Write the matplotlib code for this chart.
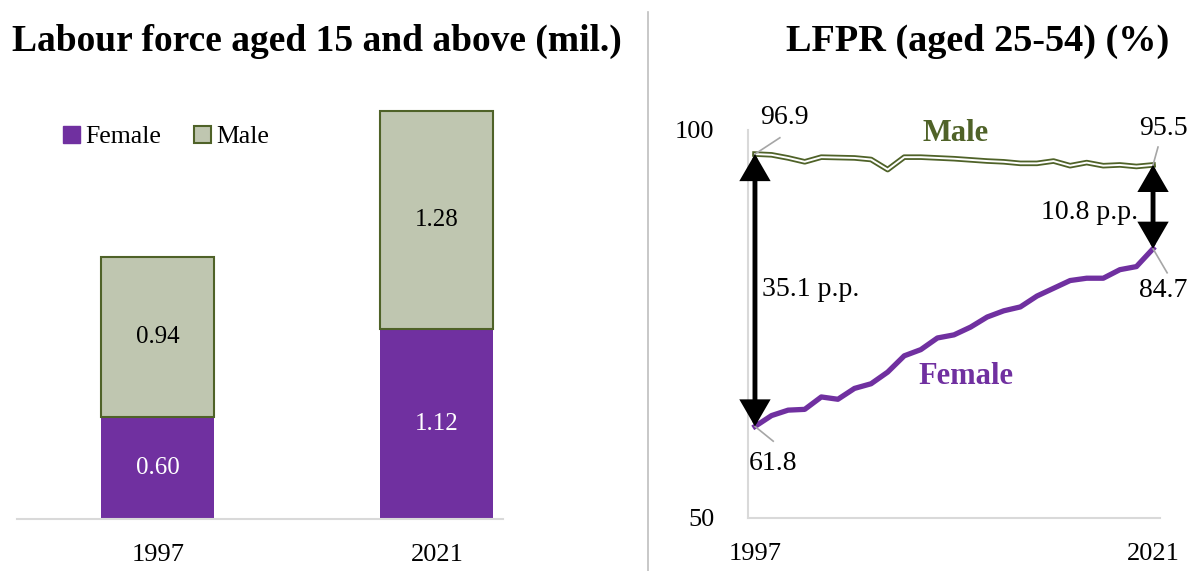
import numpy as np
import matplotlib.pyplot as plt
from matplotlib.lines import Line2D
from matplotlib.patches import Patch, ArrowStyle

plt.rcParams['font.family'] = ['Liberation Serif', 'DejaVu Serif']

# labour force (mil.)
bar_years = ['1997', '2021']
lf_female = [0.60, 1.12]
lf_male = [0.94, 1.28]

# LFPR aged 25-54 (%)
years = list(range(1997, 2022))
lfpr_female = [61.8, 63.2, 63.9, 64.0, 65.6, 65.3, 66.7, 67.3, 68.8, 70.9,
               71.7, 73.2, 73.6, 74.6, 75.9, 76.7, 77.2, 78.6, 79.6, 80.6,
               80.9, 80.9, 82.0, 82.4, 84.7]
lfpr_male = [96.9, 96.8, 96.4, 95.9, 96.5, 96.45, 96.4, 96.2, 94.9, 96.5,
             96.5, 96.4, 96.3, 96.15, 96.0, 95.9, 95.7, 95.7, 96.0, 95.4,
             95.8, 95.4, 95.5, 95.3, 95.5]

PURPLE = '#7030A0'
OLIVE = '#4F6228'
SAGE = '#BFC6B0'
GRID = '#D9D9D9'

W, H = 1195, 571
fig = plt.figure(figsize=(W / 100, H / 100), dpi=100)


def px_axes(x0, y0, x1, y1):
    return fig.add_axes([x0 / W, 1 - y1 / H, (x1 - x0) / W, (y1 - y0) / H])


# ---- left: stacked bars
ax1 = px_axes(17, 100, 503, 519)
x = np.arange(len(bar_years))
ax1.bar(x, lf_female, width=0.405, color=PURPLE, label='Female')
ax1.bar(x, lf_male, width=0.405, bottom=lf_female, color=SAGE,
        edgecolor=OLIVE, linewidth=1.5, label='Male')
for i in range(len(x)):
    ax1.text(x[i], lf_female[i] / 2, f'{lf_female[i]:.2f}', ha='center',
             va='center', color='white', fontsize=18)
    ax1.text(x[i], lf_female[i] + lf_male[i] / 2, f'{lf_male[i]:.2f}',
             ha='center', va='center', color='black', fontsize=18)
ax1.set_xlim(-0.505, 1.237)
ax1.set_ylim(0, 2.465)
ax1.set_xticks(x, bar_years, fontsize=19)
ax1.set_yticks([])
for s in ['top', 'right', 'left']:
    ax1.spines[s].set_visible(False)
ax1.spines['bottom'].set_color(GRID)
ax1.spines['bottom'].set_linewidth(1.5)
ax1.tick_params(axis='x', length=0, pad=18)
handles = [Patch(facecolor=PURPLE, edgecolor=PURPLE),
           Patch(facecolor=SAGE, edgecolor=OLIVE, linewidth=1.5)]
ax1.legend(handles, ['Female', 'Male'], ncol=2, frameon=False, fontsize=18.5,
           handlelength=0.65, handleheight=0.65, handletextpad=0.2,
           columnspacing=1.3, loc='center left',
           bbox_to_anchor=(40 / W, 1 - 137 / H), bbox_transform=fig.transFigure)

fig.text(317 / W, 1 - 41 / H, 'Labour force aged 15 and above (mil.)',
         ha='center', va='center', fontsize=27, fontweight='bold')

# ---- right: LFPR lines
ax2 = px_axes(748, 130, 1160, 518)
ax2.plot(years, lfpr_female, color=PURPLE, lw=3.8, solid_joinstyle='round')
ax2.plot(years, lfpr_male, color=OLIVE, lw=4.0)
ax2.plot(years, lfpr_male, color='white', lw=1.4)
ax2.set_xlim(1996.58, 2021.42)
ax2.set_ylim(50, 100)
ax2.set_xticks([1997, 2021], ['1997', '2021'], fontsize=19)
ax2.set_yticks([50, 100], ['50', '100'], fontsize=19)
ax2.tick_params(length=0)
ax2.tick_params(axis='x', pad=18)
ax2.tick_params(axis='y', pad=24)
for s in ['top', 'right']:
    ax2.spines[s].set_visible(False)
for s in ['left', 'bottom']:
    ax2.spines[s].set_color(GRID)
    ax2.spines[s].set_linewidth(1.5)

arrow = ArrowStyle('<|-|>', head_length=0.95, head_width=0.55)
for i in [0, -1]:
    ax2.annotate('', xy=(years[i], lfpr_female[i]), xytext=(years[i], lfpr_male[i]),
                 arrowprops=dict(arrowstyle=arrow, color='black', lw=3.5,
                                 mutation_scale=15, shrinkA=0, shrinkB=0,
                                 joinstyle='miter'),
                 annotation_clip=False)

gap_start = lfpr_male[0] - lfpr_female[0]
gap_end = lfpr_male[-1] - lfpr_female[-1]
ax2.text(1997.45, 79.4, f'{gap_start:.1f} p.p.', ha='left', va='center', fontsize=20)
ax2.text(2020.1, 89.4, f'{gap_end:.1f} p.p.', ha='right', va='center', fontsize=20)

# value labels with leader lines
labels = [
    (years[0], lfpr_male[0], 1998.5, 99.0, 1998.8, 101.6),
    (years[-1], lfpr_male[-1], 2021.3, 97.8, 2021.6, 100.2),
    (years[-1], lfpr_female[-1], 2021.85, 81.6, 2021.6, 79.3),
    (years[0], lfpr_female[0], 1998.1, 59.9, 1998.1, 57.0),
]
for px, py, lx, ly, tx, ty in labels:
    ax2.plot([px, lx], [py, ly], color='#A6A6A6', lw=1.2, clip_on=False)
    ax2.text(tx, ty, f'{py:.1f}', ha='center', va='center', fontsize=20,
             clip_on=False)

ax2.text(2009.1, 99.6, 'Male', color=OLIVE, fontsize=22, fontweight='bold',
         ha='center', va='center', clip_on=False)
ax2.text(2009.7, 68.2, 'Female', color=PURPLE, fontsize=22, fontweight='bold',
         ha='center', va='center')

fig.text(978 / W, 1 - 41 / H, 'LFPR (aged 25-54) (%)',
         ha='center', va='center', fontsize=27.5, fontweight='bold')

# separator between panels
fig.add_artist(Line2D([648 / W, 648 / W], [0, 1 - 12 / H], color='#BFBFBF',
                      lw=1.2, transform=fig.transFigure))

fig.savefig('out.png', dpi=100, facecolor='white')
